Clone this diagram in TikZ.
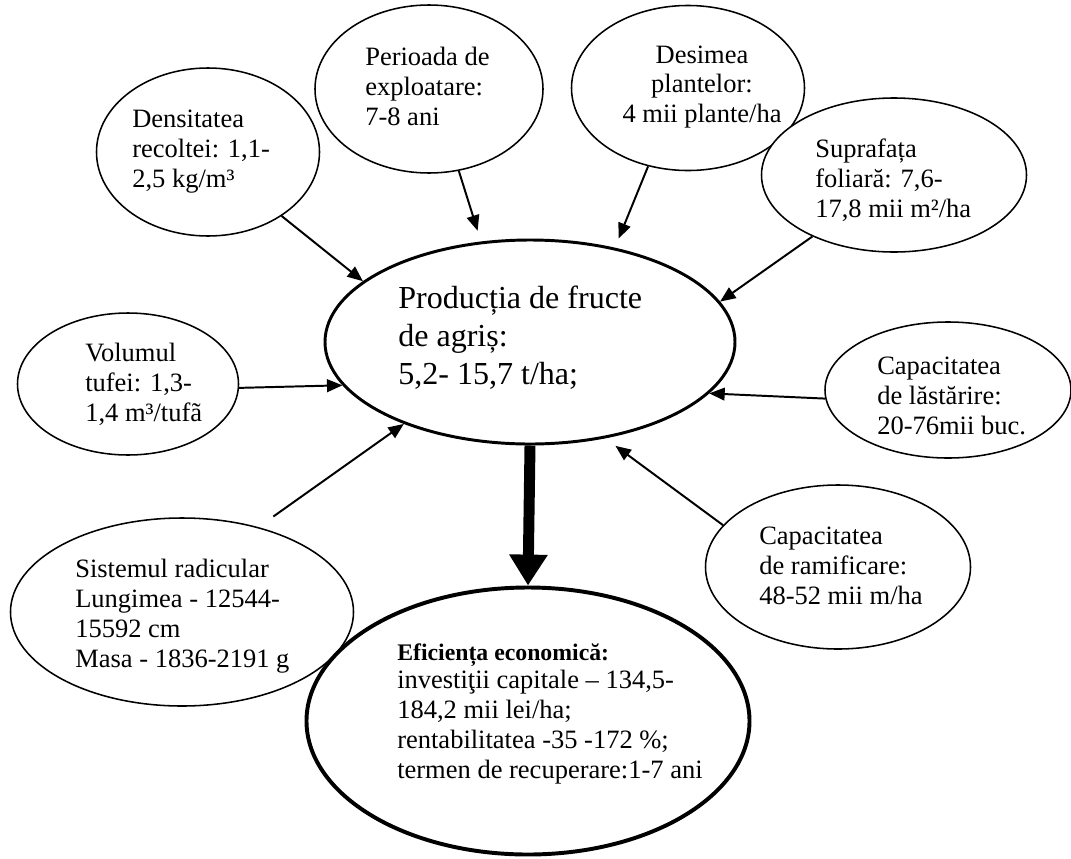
\documentclass[tikz,border=0pt]{standalone}
\usepackage{fontspec}
\setmainfont{Liberation Serif}
\usetikzlibrary{arrows.meta,shapes.geometric}
\begin{document}
\begin{tikzpicture}[x=0.25mm,y=-0.25mm,
  oval/.style={ellipse, draw, fill=white, line width=1.1pt, inner sep=0pt},
  txt/.style={align=left, inner sep=0pt, font=\fontsize{18.85}{21.3}\selectfont},
  bigtxt/.style={align=left, inner sep=0pt, font=\fontsize{22.8}{27}\selectfont},
  arr/.style={-{Triangle[length=11pt,width=9pt]}, line width=1.4pt},
  fat/.style={-{Triangle[length=22pt,width=26pt]}, line width=7.8pt}
]
\useasboundingbox (0,0) rectangle (1071,858);

% ellipses
\node[oval, minimum width=55.75mm, minimum height=42mm] (dens) at (208,152) {};
\node[oval, minimum width=57mm, minimum height=42mm] (per) at (429,89) {};
\node[oval, minimum width=58.25mm, minimum height=41.25mm] (des) at (688,88) {};
\node[oval, minimum width=66.25mm, minimum height=38.5mm] (sup) at (894,175) {};
\node[oval, line width=2.1pt, minimum width=102.5mm, minimum height=51mm] (cent) at (530,342) {};
\node[oval, minimum width=55.25mm, minimum height=35.5mm] (vol) at (128,384) {};
\node[oval, minimum width=61.5mm, minimum height=34mm] (last) at (948,390) {};
\node[oval, minimum width=85.75mm, minimum height=47mm] (sist) at (182,612) {};
\node[oval, minimum width=66.25mm, minimum height=41mm] (ram) at (838,567) {};
\node[oval, line width=2.8pt, minimum width=110.75mm, minimum height=66.75mm] (bot) at (528,721) {};

% arrows
\draw[arr] (dens.-41) -- (cent.160);
\draw[arr, shorten >=8pt] (per.-70.7) -- (cent.116.2);
\draw[arr, shorten >=7pt] (des.-117.1) -- (cent.48.6);
\draw[arr] (sup.-143) -- (cent.12.9);
\draw[arr] (vol.-2) -- (cent.193.2);
\draw[arr, shorten <=13pt] (sist.48.4) -- (cent.213.6);
\draw[arr] (last.184.6) -- (cent.-16.9);
\draw[arr, shorten >=9pt] (ram.160.8) -- (cent.-52.3);
\draw[fat] (cent.south) -- (bot.north);

% texts
\node[txt, anchor=west] (densT) at (132,152) {Densitatea\\recoltei: 1,1-\\2,5 kg/m³};
\node[txt, anchor=west] (perT) at (365,86) {Perioada de\\exploatare:\\7-8 ani};
\node[txt, align=center] (desT) at (702,87) {Desimea\\plantelor:\\4 mii plante/ha};
\node[txt, anchor=west] (supT) at (815,180) {Suprafața\\foliară: 7,6-\\17,8 mii m²/ha};
\node[bigtxt, anchor=west] (centT) at (398,338) {Producția de fructe\\de agriș:\\5,2- 15,7 t/ha;};
\node[txt, anchor=west] (volT) at (85,384) {Volumul\\tufei: 1,3-\\1,4 m³/tufã};
\node[txt, anchor=west] (lastT) at (877,396) {Capacitatea\\de lăstărire:\\20-76mii buc.};
\node[txt, anchor=west] (sistT) at (75,616) {Sistemul radicular\\Lungimea - 12544-\\15592 cm\\Masa - 1836-2191 g};
\node[txt, anchor=west] (ramT) at (759,566) {Capacitatea\\de ramificare:\\48-52 mii m/ha};
\node[txt, anchor=west] (botT) at (397,714) {{\bfseries\fontsize{16.9}{20}\selectfont Eficiența economică:}\\[-1.4pt]investiţii capitale – 134,5-\\184,2 mii lei/ha;\\rentabilitatea -35 -172 \%;\\termen de recuperare:1-7 ani};
\end{tikzpicture}
\end{document}
